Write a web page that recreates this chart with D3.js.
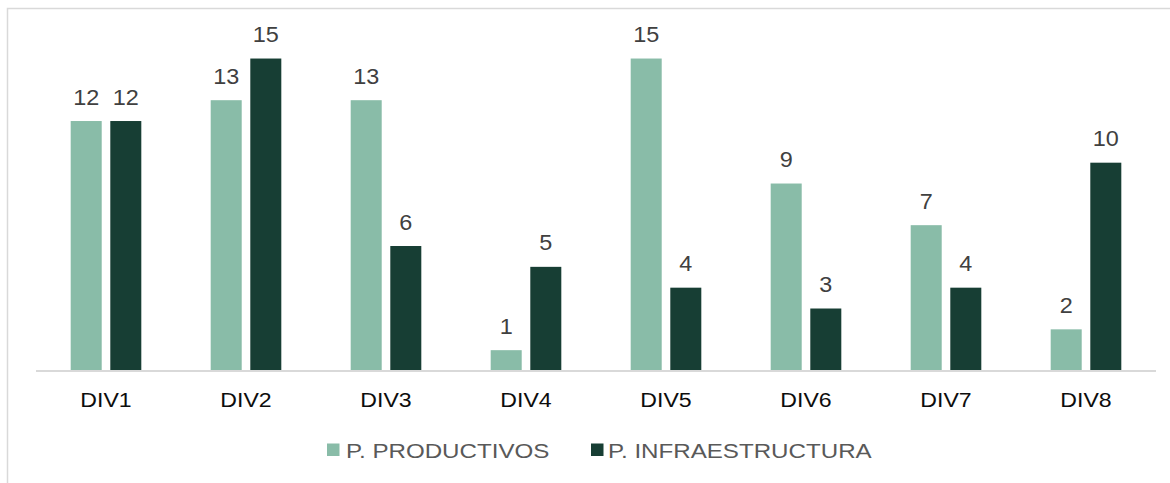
<!DOCTYPE html>
<html>
<head>
<meta charset="utf-8">
<script src="https://cdn.jsdelivr.net/npm/d3@7"></script>
<style>
  html, body { margin: 0; padding: 0; background: #fff; }
  svg { display: block; font-family: "Liberation Sans", Arial, sans-serif; }
</style>
</head>
<body>
<svg id="chart" width="1170" height="483"></svg>
<script>
const categories = ["DIV1", "DIV2", "DIV3", "DIV4", "DIV5", "DIV6", "DIV7", "DIV8"];
const seriesNames = ["P. PRODUCTIVOS", "P. INFRAESTRUCTURA"];
const productivos = [12, 13, 13, 1, 15, 9, 7, 2];
const infraestructura = [12, 15, 6, 5, 4, 3, 4, 10];
const seriesColors = ["#89bca8", "#173e34"];

const svg = d3.select("#chart");
const W = 1170, H = 483;

// chart border (light gray)
svg.append("rect")
  .attr("x", 7.5).attr("y", 8.5)
  .attr("width", W + 10).attr("height", H + 10)
  .attr("fill", "none").attr("stroke", "#d9d9d9").attr("stroke-width", 1.5);

const plot = { left: 36, right: 1156, top: 37.7, bottom: 371 };

const x0 = d3.scaleBand().domain(categories).range([plot.left, plot.right]).paddingInner(0).paddingOuter(0);
const x1 = d3.scaleBand().domain(seriesNames).range([0, x0.bandwidth()]).paddingInner(0.217).paddingOuter(0.876);
const y = d3.scaleLinear().domain([0, 16]).range([plot.bottom, plot.top]);

const data = categories.map((c, i) => ({
  cat: c,
  vals: [
    { s: seriesNames[0], v: productivos[i], color: seriesColors[0] },
    { s: seriesNames[1], v: infraestructura[i], color: seriesColors[1] }
  ]
}));

const groups = svg.append("g").selectAll("g").data(data).join("g")
  .attr("transform", d => `translate(${x0(d.cat)},0)`);

groups.selectAll("rect").data(d => d.vals).join("rect")
  .attr("x", d => x1(d.s))
  .attr("y", d => y(d.v))
  .attr("width", x1.bandwidth())
  .attr("height", d => plot.bottom - y(d.v))
  .attr("fill", d => d.color);

groups.selectAll("text.val").data(d => d.vals).join("text")
  .attr("class", "val")
  .attr("transform", d => `translate(${x1(d.s) + x1.bandwidth() / 2},${y(d.v) - 16.5}) scale(1.09,1)`)
  .attr("text-anchor", "middle")
  .attr("font-size", "21.5px")
  .attr("fill", "#404040")
  .text(d => d.v);

// x axis
const xAxis = d3.axisBottom(x0).tickSize(0).tickPadding(0);
const gx = svg.append("g").attr("transform", `translate(0,${plot.bottom})`).call(xAxis);
gx.select(".domain").attr("stroke", "#d9d9d9").attr("stroke-width", 2)
  .attr("d", `M${plot.left},0H${plot.right}`);
gx.selectAll(".tick text")
  .attr("dy", null)
  .attr("y", null)
  .attr("transform", "translate(0,36) scale(1.1,1)")
  .attr("font-size", "21px")
  .attr("font-family", "Liberation Sans, Arial, sans-serif")
  .attr("fill", "#0d0d0d");

// legend
const legendItems = [
  { name: seriesNames[0], color: seriesColors[0], sx: 327, tx: 346 },
  { name: seriesNames[1], color: seriesColors[1], sx: 591, tx: 608 }
];
const lg = svg.append("g");
legendItems.forEach(it => {
  lg.append("rect").attr("x", it.sx).attr("y", 443.5).attr("width", 12.5).attr("height", 12.5).attr("fill", it.color);
  lg.append("text").attr("transform", `translate(${it.tx},458.3) scale(1.15,1)`)
    .attr("font-size", "21px").attr("fill", "#595959").text(it.name);
});
</script>
</body>
</html>
